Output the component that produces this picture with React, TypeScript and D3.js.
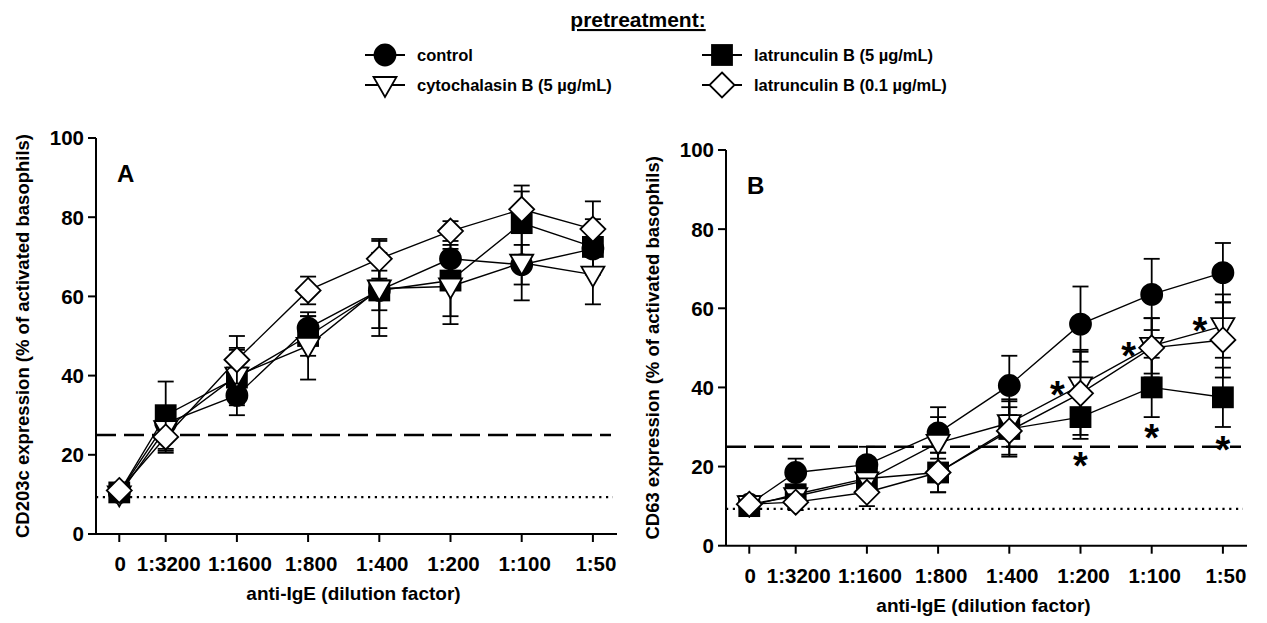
import React from "react";
import * as d3 from "d3";

// ---------- data ----------
const categories = ["0", "1:3200", "1:1600", "1:800", "1:400", "1:200", "1:100", "1:50"];
// position of each dilution on the (log2) dilution axis; "0" sits left of 1:3200
const categoryPositions = [-0.652, 0, 1, 2, 3, 4, 5, 6];
const yTicks = [0, 20, 40, 60, 80, 100];

const seriesNames = [
  "control",
  "latrunculin B (5 µg/mL)",
  "cytochalasin B (5 µg/mL)",
  "latrunculin B (0.1 µg/mL)",
];
const seriesSymbols = ["circle", "square", "triangle", "diamond"];

// Panel A: CD203c
const cd203cControl = [10.5, 28, 35, 52, 61.5, 69.5, 68, 72];
const cd203cControlErr = [1, 4, 5, 3, 5, 6, 5, 5];
const cd203cLatB5 = [10.5, 30, 39.5, 50, 61.5, 64, 78.5, 72.5];
const cd203cLatB5Err = [1, 8.5, 7, 5, 9.5, 9, 8, 7];
const cd203cCytoB = [10, 26.5, 40, 47.5, 62, 62.5, 68.5, 65.5];
const cd203cCytoBErr = [1, 5.5, 7, 8.5, 12, 9.5, 9.5, 7.5];
const cd203cLatB01 = [11, 24.5, 44, 61.5, 69.5, 76.5, 82, 77];
const cd203cLatB01Err = [1, 4, 6, 3.5, 5, 2.5, 6, 7];

// Panel B: CD63
const cd63Control = [10.5, 18.5, 20.5, 28.5, 40.5, 56, 63.5, 69];
const cd63ControlErr = [1, 3.5, 4.5, 6.5, 7.5, 9.5, 9, 7.5];
const cd63LatB5 = [10, 13, 17, 18.5, 29.5, 32.5, 40, 37.5];
const cd63LatB5Err = [1, 2, 3, 5, 7, 5.5, 7.5, 7.5];
const cd63CytoB = [10.5, 12.5, 16.5, 26, 31, 40.5, 50.5, 55.5];
const cd63CytoBErr = [1, 1.5, 3, 6.5, 6, 9, 7, 8];
const cd63LatB01 = [10.5, 11, 13.5, 18.5, 29, 38.5, 50, 52];
const cd63LatB01Err = [1, 2, 3.5, 5, 6, 10.5, 7.5, 9.5];

// reference thresholds
const thresholdDashed = 25;
const thresholdDotted = 9.3;

// significance stars in panel B: category, value, placement
const starCategories = ["1:200", "1:200", "1:100", "1:100", "1:50", "1:50"];
const starValues = [40.2, 22.1, 49.9, 29.2, 56.2, 26.3];
const starSides = ["left", "center", "left", "center", "left", "center"];

// ---------- drawing ----------
const FONT = "'Liberation Sans', Arial, Helvetica, sans-serif";

function Symbol({ type, x, y }: { type: string; x: number; y: number }) {
  const sw = 1.8;
  if (type === "circle") return <circle cx={x} cy={y} r={10.5} fill="#000" stroke="#000" strokeWidth={sw} />;
  if (type === "square")
    return <rect x={x - 10} y={y - 10} width={20} height={20} fill="#000" stroke="#000" strokeWidth={sw} />;
  if (type === "triangle")
    return (
      <polygon
        points={`${x - 11.5},${y - 8} ${x + 11.5},${y - 8} ${x},${y + 12}`}
        fill="#fff"
        stroke="#000"
        strokeWidth={sw}
      />
    );
  return (
    <polygon
      points={`${x},${y - 12.5} ${x + 12.5},${y} ${x},${y + 12.5} ${x - 12.5},${y}`}
      fill="#fff"
      stroke="#000"
      strokeWidth={sw}
    />
  );
}

type PanelProps = {
  left: number;
  right: number;
  y0: number;
  y100: number;
  letter: string;
  yTitle: string;
  values: number[][];
  errors: number[][];
  stars?: boolean;
};

function Panel({ left, right, y0, y100, letter, yTitle, values, errors, stars }: PanelProps) {
  const x = d3.scaleLinear().domain([0, 6]).range([left + 69.7, left + 496.9]);
  const y = d3.scaleLinear().domain([0, 100]).range([y0, y100]);
  const xc = (i: number) => x(categoryPositions[i]);
  const line = d3
    .line<number>()
    .x((_, i) => xc(i))
    .y((d) => y(d));

  return (
    <g fontFamily={FONT} fontWeight="bold">
      {/* reference lines */}
      <line x1={left} x2={right - 6} y1={y(thresholdDashed)} y2={y(thresholdDashed)} stroke="#000" strokeWidth={2.4} strokeDasharray="20 8" />
      <line x1={left} x2={right - 4} y1={y(thresholdDotted)} y2={y(thresholdDotted)} stroke="#000" strokeWidth={2.2} strokeDasharray="2.2 4.6" />

      {/* axes */}
      <line x1={left} x2={left} y1={y(0)} y2={y(100)} stroke="#000" strokeWidth={2} />
      <line x1={left} x2={right} y1={y(0)} y2={y(0)} stroke="#000" strokeWidth={2} />
      {yTicks.map((t) => (
        <g key={t}>
          <line x1={left - 8} x2={left} y1={y(t)} y2={y(t)} stroke="#000" strokeWidth={2} />
          <text x={left - 12} y={y(t)} dy="0.36em" textAnchor="end" fontSize={20.5}>
            {t}
          </text>
        </g>
      ))}
      {categories.map((c, i) => (
        <g key={c}>
          <line x1={xc(i)} x2={xc(i)} y1={y(0)} y2={y(0) + 8} stroke="#000" strokeWidth={2} />
        </g>
      ))}
      {categories.map((c, i) => (
        <text
          key={"l" + c}
          x={i === 0 ? xc(i) + 1 : i === 1 ? xc(i) + 3 : xc(i) + 3}
          y={y(0) + 37}
          textAnchor="middle"
          fontSize={20.5}
        >
          {c}
        </text>
      ))}
      <text x={(left + right) / 2 - 3} y={y(0) + 66} textAnchor="middle" fontSize={19}>
        anti-IgE (dilution factor)
      </text>
      <text
        transform={`translate(${left - 67},${(y(0) + y(100)) / 2}) rotate(-90)`}
        textAnchor="middle"
        fontSize={18.5}
      >
        {yTitle}
      </text>
      <text x={left + 21} y={y(100) + 44} fontSize={24}>
        {letter}
      </text>

      {/* series */}
      {values.map((vals, s) => (
        <g key={s}>
          {vals.map((v, i) => {
            const e = errors[s][i];
            const cx = xc(i);
            return (
              <g key={i} stroke="#000" strokeWidth={1.8}>
                <line x1={cx} x2={cx} y1={y(v - e)} y2={y(v + e)} />
                <line x1={cx - 8} x2={cx + 8} y1={y(v + e)} y2={y(v + e)} />
                <line x1={cx - 8} x2={cx + 8} y1={y(v - e)} y2={y(v - e)} />
              </g>
            );
          })}
          <path d={line(vals) || ""} fill="none" stroke="#000" strokeWidth={1.4} />
          {vals.map((v, i) => (
            <Symbol key={i} type={seriesSymbols[s]} x={xc(i)} y={y(v)} />
          ))}
        </g>
      ))}

      {stars &&
        starCategories.map((c, k) => {
          const i = categories.indexOf(c);
          const sx = xc(i) + (starSides[k] === "left" ? -23 : 0);
          const sy = y(starValues[k]);
          return (
            <text key={k} x={sx} y={sy + 21} textAnchor="middle" fontSize={38}>
              *
            </text>
          );
        })}
    </g>
  );
}

function Legend() {
  const rows = [
    { s: 0, col: 0, row: 0 },
    { s: 2, col: 0, row: 1 },
    { s: 1, col: 1, row: 0 },
    { s: 3, col: 1, row: 1 },
  ];
  const colX = [385, 722];
  const rowY = [55, 85];
  return (
    <g fontFamily={FONT} fontWeight="bold">
      <text x={638} y={27} textAnchor="middle" fontSize={21} textDecoration="underline">
        pretreatment:
      </text>
      {rows.map(({ s, col, row }) => (
        <g key={s}>
          <line x1={colX[col] - 20} x2={colX[col] + 20} y1={rowY[row]} y2={rowY[row]} stroke="#000" strokeWidth={1.8} />
          <Symbol type={seriesSymbols[s]} x={colX[col]} y={rowY[row]} />
          <text x={colX[col] + 32} y={rowY[row]} dy="0.36em" fontSize={16.5}>
            {seriesNames[s]}
          </text>
        </g>
      ))}
    </g>
  );
}

export default function App() {
  return (
    <svg
      width={1267}
      height={623}
      style={{ position: "fixed", left: 0, top: 0, background: "#fff" }}
    >
      <rect width={1267} height={623} fill="#fff" />
      <Legend />
      <Panel
        left={96}
        right={617}
        y0={534}
        y100={138}
        letter="A"
        yTitle="CD203c expression (% of activated basophils)"
        values={[cd203cControl, cd203cLatB5, cd203cCytoB, cd203cLatB01]}
        errors={[cd203cControlErr, cd203cLatB5Err, cd203cCytoBErr, cd203cLatB01Err]}
      />
      <Panel
        left={726}
        right={1247}
        y0={545.7}
        y100={150}
        letter="B"
        yTitle="CD63 expression (% of activated basophils)"
        values={[cd63Control, cd63LatB5, cd63CytoB, cd63LatB01]}
        errors={[cd63ControlErr, cd63LatB5Err, cd63CytoBErr, cd63LatB01Err]}
        stars
      />
    </svg>
  );
}
